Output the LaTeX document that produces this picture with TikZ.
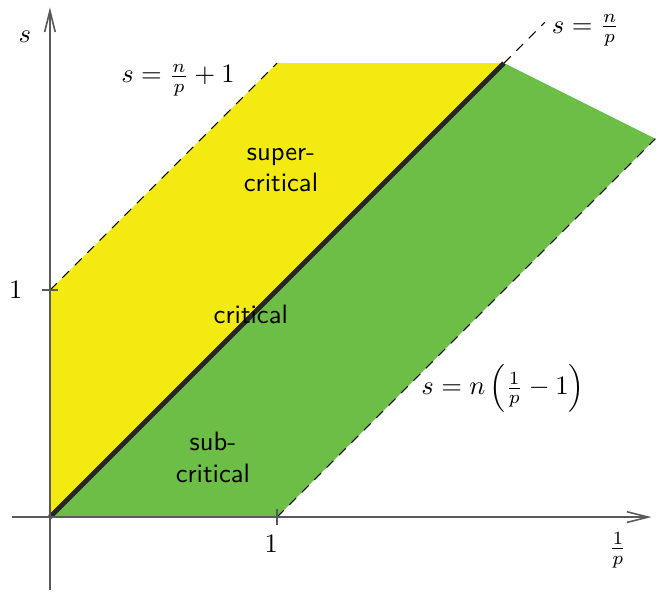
\documentclass[tikz,border=0pt]{standalone}
\usetikzlibrary{arrows.meta}
\definecolor{superyellow}{RGB}{242,234,16}
\definecolor{subgreen}{RGB}{108,190,70}
\definecolor{axisgray}{RGB}{90,90,90}

\begin{document}
\begin{tikzpicture}[x=3cm, y=3cm,
    axis/.style={draw=axisgray, line width=0.6pt, -{Straight Barb[length=8pt,width=4pt]}},
    boundary/.style={dash pattern=on 3.6pt off 3pt, line width=0.4pt},
    region/.style={font=\sffamily, align=center, inner sep=1pt}]
  \useasboundingbox (-0.22,-0.33) rectangle (2.692,2.278);
  \coordinate (O) at (0,0);
  \coordinate (A) at (0,1);
  \coordinate (B) at (1,2);
  \coordinate (C) at (2,2);
  \coordinate (D) at (2.667,1.667);
  \coordinate (E) at (1,0);
  \coordinate (F) at (2.18,2.18);
  % regions
  \fill[superyellow] (O) -- (A) -- (B) -- (C) -- cycle;
  \fill[subgreen] (O) -- (C) -- (D) -- (E) -- cycle;
  % boundaries
  \draw[boundary] (A) -- (B);
  \draw[boundary] (E) -- (D);
  \draw[boundary] (C) -- (F);
  \draw[line width=1.8pt, black!85] (O) -- (C);
  % axes
  \coordinate (xl) at (-0.167,0);
  \coordinate (xr) at (2.65,0);
  \coordinate (yb) at (0,-0.32);
  \coordinate (yt) at (0,2.245);
  \draw[axis] (xl) -- (xr);
  \draw[axis] (yb) -- (yt);
  \draw[axisgray, line width=0.6pt] (-0.035,1) -- (0.035,1);
  \draw[axisgray, line width=0.6pt] (1,-0.035) -- (1,0.035);
  % labels
  \node (slab) at (-0.11,2.115) {$s$};
  \node (xlab) at (2.502,-0.145) {$\frac{1}{p}$};
  \node (yone) at (-0.15,1) {$1$};
  \node (xone) at (0.975,-0.12) {$1$};
  \node (upper) at (0.564,1.925) {$s=\frac{n}{p}+1$};
  \node[anchor=west] (crit) at (2.17,2.145) {$s=\frac{n}{p}$};
  \node (lower) at (1.996,0.568) {$s=n\left(\frac{1}{p}-1\right)$};
  \node[region] (super) at (1.018,1.529) {super-\\critical};
  \node[region] (critical) at (0.885,0.894) {critical};
  \node[region] (sub) at (0.718,0.264) {sub-\\critical};
\end{tikzpicture}
\end{document}
